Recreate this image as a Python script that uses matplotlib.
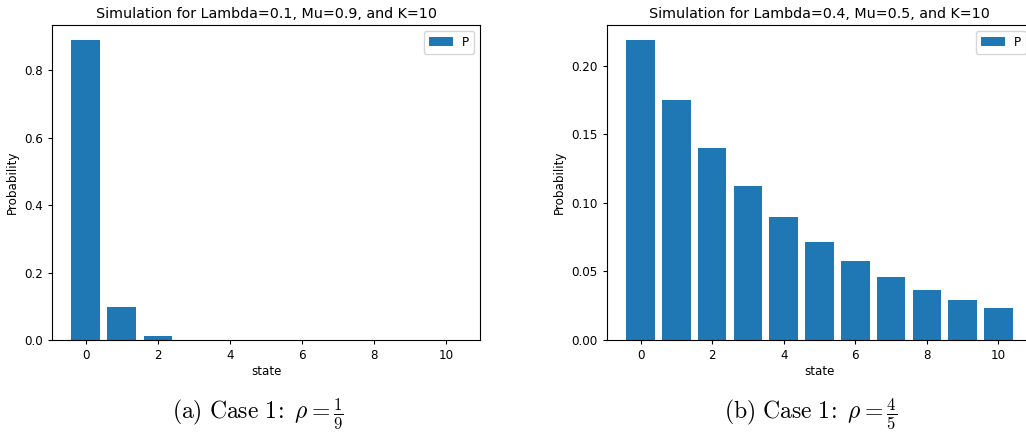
import matplotlib
matplotlib.use("Agg")
import matplotlib.pyplot as plt
import numpy as np

plt.rcParams['mathtext.fontset'] = 'cm'

states = np.arange(11)
# probabilities
p_case_a = [0.889, 0.0988, 0.011, 0.0012, 0.0001, 0.0, 0.0, 0.0, 0.0, 0.0, 0.0]
p_case_b = [0.2188, 0.1750, 0.1400, 0.1120, 0.0896, 0.0717, 0.0573, 0.0459, 0.0367, 0.0294, 0.0235]
titles = ["Simulation for Lambda=0.1, Mu=0.9, and K=10",
          "Simulation for Lambda=0.4, Mu=0.5, and K=10"]
captions = [r"$\mathrm{(a)\ Case\ 1\!:}\ \rho = \frac{1}{9}$",
            r"$\mathrm{(b)\ Case\ 1\!:}\ \rho = \frac{4}{5}$"]

fig = plt.figure(figsize=(10.26, 4.37), dpi=100)
ax1 = fig.add_axes([52/1026, 97/437, 428/1026, 315/437])
ax2 = fig.add_axes([607/1026, 97/437, 425/1026, 315/437])

for ax, p, t in zip([ax1, ax2], [p_case_a, p_case_b], titles):
    ax.bar(states, p, color='#1f77b4', label='P')
    ax.set_title(t, fontsize=10.3, pad=5)
    ax.set_xlabel('state', fontsize=8.6, labelpad=2)
    ax.set_ylabel('Probability', fontsize=8.6)
    ax.tick_params(labelsize=8.6, length=3)
    ax.legend(loc='upper right', fontsize=8.6)

ax1.set_xticks([0, 2, 4, 6, 8, 10])
ax2.set_xticks([0, 2, 4, 6, 8, 10])

fig.text(258/1026, 1 - 414/437, captions[0], ha='center', va='center', fontsize=17)
fig.text(811/1026, 1 - 414/437, captions[1], ha='center', va='center', fontsize=17)

fig.savefig('out.png', dpi=100)
